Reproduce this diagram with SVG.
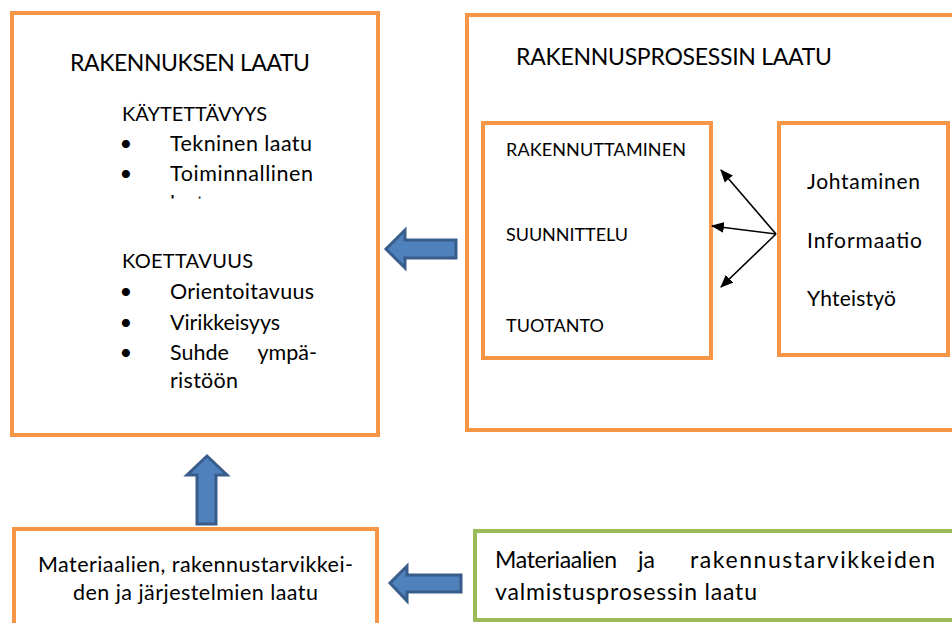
<svg xmlns="http://www.w3.org/2000/svg" width="952" height="623" viewBox="0 0 952 623">
<style>
.box{fill:#fff;stroke:#F79646;stroke-width:4}
.gbox{fill:#fff;stroke:#9BBB59;stroke-width:4}
.t{font-family:Lato,"Noto Sans",sans-serif;fill:#000}
.blk{fill:#4F81BD;stroke:#385D8A;stroke-width:3;stroke-linejoin:miter}
.con{stroke:#000;stroke-width:1.6;fill:none}
</style>
<defs>
<marker id="ahL" viewBox="0 0 12 10" refX="11" refY="5" markerWidth="13" markerHeight="11" markerUnits="userSpaceOnUse" orient="auto">
<path d="M0,0 L12,5 L0,10 z" fill="#000"/>
</marker>
<clipPath id="clipL"><rect x="0" y="0" width="380" height="198.5"/></clipPath>
</defs>
<rect width="952" height="623" fill="#fff"/>

<g id="rakennuksen-laatu">
<rect class="box" x="12" y="13" width="366" height="422"/>
<text class="t" x="70" y="71" font-size="23" textLength="240" lengthAdjust="spacing">RAKENNUKSEN LAATU</text>
<text class="t" x="122" y="121" font-size="20" textLength="145" lengthAdjust="spacing">KÄYTETTÄVYYS</text>
<text class="t" x="126" y="151" font-size="22" text-anchor="middle">•</text>
<text class="t" x="170" y="151" font-size="21.5" textLength="142" lengthAdjust="spacing">Tekninen laatu</text>
<text class="t" x="126" y="181" font-size="22" text-anchor="middle">•</text>
<text class="t" x="170" y="181" font-size="21.5" textLength="143" lengthAdjust="spacing">Toiminnallinen</text>
<text class="t" x="170" y="211" font-size="21.5" clip-path="url(#clipL)">laatu</text>
<text class="t" x="122" y="268" font-size="20" textLength="131" lengthAdjust="spacing">KOETTAVUUS</text>
<text class="t" x="126" y="299" font-size="22" text-anchor="middle">•</text>
<text class="t" x="170" y="299" font-size="21.5" textLength="144" lengthAdjust="spacing">Orientoitavuus</text>
<text class="t" x="126" y="330" font-size="22" text-anchor="middle">•</text>
<text class="t" x="170" y="330" font-size="21.5" textLength="110" lengthAdjust="spacing">Virikkeisyys</text>
<text class="t" x="126" y="360" font-size="22" text-anchor="middle">•</text>
<text class="t" x="170" y="360" font-size="21.5">Suhde</text>
<text class="t" x="317" y="360" font-size="21.5" text-anchor="end">ympä-</text>
<text class="t" x="170" y="388" font-size="21.5" textLength="68" lengthAdjust="spacing">ristöön</text>
</g>

<g id="rakennusprosessin-laatu">
<rect class="box" x="467" y="15" width="500" height="415"/>
<text class="t" x="516" y="65" font-size="23" textLength="316" lengthAdjust="spacing">RAKENNUSPROSESSIN LAATU</text>
</g>

<g id="vaiheet">
<rect class="box" x="483" y="123" width="228" height="235"/>
<text class="t" x="506" y="156" font-size="18" textLength="180" lengthAdjust="spacing">RAKENNUTTAMINEN</text>
<text class="t" x="506" y="241" font-size="18" textLength="122" lengthAdjust="spacing">SUUNNITTELU</text>
<text class="t" x="506" y="332" font-size="18" textLength="98" lengthAdjust="spacing">TUOTANTO</text>
</g>

<g id="tukitoiminnot">
<rect class="box" x="779" y="123" width="169" height="232"/>
<text class="t" x="807" y="189" font-size="21" textLength="113" lengthAdjust="spacing">Johtaminen</text>
<text class="t" x="807" y="248" font-size="21" textLength="115" lengthAdjust="spacing">Informaatio</text>
<text class="t" x="807" y="306" font-size="21" textLength="89" lengthAdjust="spacing">Yhteistyö</text>
</g>

<g id="materiaalien-laatu">
<rect class="box" x="14" y="529" width="363" height="110"/>
<text class="t" x="38" y="572" font-size="21.5" textLength="315" lengthAdjust="spacing">Materiaalien, rakennustarvikkei-</text>
<text class="t" x="73" y="600" font-size="21.5" textLength="245" lengthAdjust="spacing">den ja järjestelmien laatu</text>
</g>

<g id="valmistusprosessin-laatu">
<rect class="gbox" x="475" y="531" width="500" height="89"/>
<text class="t" x="495" y="568" font-size="23" textLength="122" lengthAdjust="spacing">Materiaalien</text>
<text class="t" x="638" y="568" font-size="23">ja</text>
<text class="t" x="690" y="568" font-size="23" textLength="245" lengthAdjust="spacing">rakennustarvikkeiden</text>
<text class="t" x="495" y="600" font-size="23" textLength="262" lengthAdjust="spacing">valmistusprosessin laatu</text>
</g>

<g id="connectors">
<line class="con" x1="776" y1="234" x2="721" y2="170" marker-end="url(#ahL)"/>
<line class="con" x1="776" y1="234" x2="712" y2="226" marker-end="url(#ahL)"/>
<line class="con" x1="776" y1="234" x2="721" y2="287" marker-end="url(#ahL)"/>
<path class="blk" d="M386,249 L405,230 L405,240 L456,240 L456,258 L405,258 L405,268 Z"/>
<path class="blk" d="M207,456 L227,475 L216,475 L216,524 L197,524 L197,475 L187,475 Z"/>
<path class="blk" d="M390,583 L407,566 L407,575 L461,575 L461,592 L407,592 L407,601 Z"/>
</g>
</svg>
